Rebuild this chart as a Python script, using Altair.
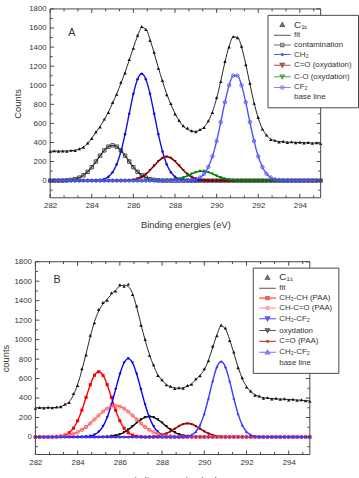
import altair as alt
import pandas as pd

FONT = "Liberation Sans"
INK = "#333333"
FRAME = "#444444"

# Sampling of the binding-energy axis (eV) shared by every curve
E_START = 282.0
E_STEP = 0.2
E_COUNT = 66
ENERGY = [round(E_START + E_STEP * i, 1) for i in range(E_COUNT)]

# ---------------- Panel A ----------------
A_C1S = [306, 312, 307, 311, 309, 317, 316, 334, 349, 395, 441,
         512, 562, 645, 714, 820, 905, 1030, 1128, 1270, 1388, 1525,
         1615, 1585, 1470, 1345, 1178, 1050, 900, 808, 698, 630, 575,
         552, 522, 512, 535, 558, 628, 715, 870, 1038, 1250, 1402,
         1512, 1498, 1408, 1215, 1020, 810, 662, 540, 478, 430, 422,
         405, 412, 400, 406, 398, 403, 395, 399, 392, 397, 389]
A_FIT = [309, 309, 309, 310, 311, 314, 319, 330, 352, 390, 446,
         505, 568, 638, 720, 812, 912, 1020, 1135, 1262, 1395, 1515,
         1605, 1590, 1480, 1335, 1185, 1040, 910, 800, 705, 625, 570,
         537, 520, 516, 530, 562, 622, 722, 862, 1044, 1242, 1410,
         1505, 1505, 1400, 1222, 1013, 816, 656, 544, 473, 436, 418,
         410, 406, 404, 402, 401, 400, 398, 397, 395, 394, 392]
# components: (first energy of the non-zero span, counts)
A_CONTAM = (282.8, [3, 8, 16, 31, 56, 92, 141, 200, 262, 317, 356, 370,
                    356, 317, 262, 200, 141, 92, 56, 31, 16, 8, 3])
A_CH2 = (284.2, [2, 6, 17, 40, 88, 172, 305, 487, 701, 910, 1063, 1120,
                 1063, 910, 701, 487, 305, 172, 88, 40, 17, 6, 2])
A_C_DBL_O = (285.8, [4, 9, 20, 38, 68, 109, 157, 203, 237, 250,
                     237, 203, 157, 109, 68, 38, 20, 9, 4])
A_C_O = (287.6, [2, 4, 10, 19, 32, 51, 71, 88, 99, 99,
                 88, 71, 51, 32, 19, 10, 4, 2])
A_CF2 = (288.6, [2, 5, 14, 33, 71, 142, 255, 415, 613, 822, 999, 1101,
                 1101, 999, 822, 613, 415, 255, 142, 71, 33, 14, 5, 2])

# ---------------- Panel B ----------------
B_C1S = [296, 303, 298, 305, 299, 308, 310, 338, 355, 445, 528,
         700, 842, 1045, 1172, 1310, 1382, 1405, 1480, 1498, 1565, 1548,
         1570, 1462, 1345, 1148, 1002, 838, 742, 632, 588, 535, 522,
         498, 506, 500, 528, 540, 598, 628, 700, 782, 932, 1040,
         1150, 1120, 990, 872, 712, 608, 512, 472, 428, 420, 398,
         404, 390, 398, 386, 393, 380, 388, 376, 382, 371, 366]
B_FIT = [300, 300, 300, 300, 301, 304, 312, 330, 363, 430, 540,
         685, 855, 1030, 1185, 1295, 1365, 1415, 1465, 1510, 1548, 1560,
         1545, 1475, 1330, 1160, 990, 850, 730, 640, 580, 540, 515,
         505, 500, 505, 520, 545, 590, 635, 690, 790, 920, 1050,
         1140, 1110, 1000, 860, 720, 600, 520, 465, 435, 415, 403,
         398, 395, 392, 390, 388, 385, 382, 380, 377, 374, 370]
B_CH2_CH = (283.0, [3, 7, 19, 44, 90, 167, 275, 407, 537, 634, 670,
                    634, 537, 407, 275, 167, 90, 44, 19, 7, 3])
B_CH_CO = (283.0, [3, 6, 11, 19, 32, 49, 73, 103, 139, 180, 221, 260, 292, 313, 320,
                   313, 292, 260, 221, 180, 139, 103, 73, 49, 32, 19, 11, 6, 3])
B_CH2_CF2 = (284.4, [3, 9, 23, 53, 109, 200, 331, 489, 645, 762, 805,
                     762, 645, 489, 331, 200, 109, 53, 23, 9, 3])
B_OXY = (285.2, [2, 4, 8, 15, 28, 48, 76, 109, 146, 178, 202, 210,
                 202, 178, 146, 109, 76, 48, 28, 15, 8, 4, 2])
B_CO = (287.4, [2, 4, 9, 19, 35, 58, 85, 112, 132, 140,
                132, 112, 85, 58, 35, 19, 9, 4, 2])
B_CF2 = (289.0, [2, 7, 21, 54, 122, 237, 398, 576, 720, 775,
                 720, 576, 398, 237, 122, 54, 21, 7, 2])

# Axis ticks
X_LABELS = [282, 284, 286, 288, 290, 292, 294]
X_MINOR = [round(282 + k * 2 / 3, 3) for k in range(20) if k % 3 != 0]
Y_LABELS = list(range(0, 1801, 200))
Y_MINOR = list(range(-100, 1800, 200))

C1S_LABEL = "C₁ₛ"


def spread(component):
    """Place a component's non-zero span on the full energy grid."""
    start, values = component
    out = [0] * E_COUNT
    i0 = ENERGY.index(round(start, 1))
    out[i0:i0 + len(values)] = values
    return out


# legend glyphs: short line with a marker in the middle (unit box, scaled by sqrt(size)/2)
LINE = "M-1.75,0H6.75"
TRI_UP = "M1.4,0.95L2.5,-1.05L3.6,0.95Z"
TRI_DOWN = "M1.4,-0.95L3.6,-0.95L2.5,1.05Z"
SQUARE = "M1.65,-0.85H3.35V0.85H1.65Z"
CIRCLE = "M1.65,0A0.85,0.85 0 1,0 3.35,0A0.85,0.85 0 1,0 1.65,0Z"
DOT = "M1.95,0A0.55,0.55 0 1,0 3.05,0A0.55,0.55 0 1,0 1.95,0Z"
EMPTY = "M2.5,0L2.51,0"


def panel(series, legend_rows, letter, letter_xy, y_title, width, height,
          legend_xy, row_pad, y_title_pad, inset=0):
    """One spectrum panel; the framed data area spans [inset, width] horizontally."""
    xs = alt.Scale(domain=[282, 295], range=[inset, width], nice=False, zero=False)
    ys = alt.Scale(domain=[-180, 1800], nice=False, zero=False)
    x_axis = alt.Axis(values=X_LABELS, format="d", title="Binding energies (eV)",
                      ticks=False, domain=False, grid=False, labelFlush=False,
                      labelFont=FONT, labelFontSize=8, labelColor=INK, labelPadding=4,
                      titleFont=FONT, titleFontSize=9.5, titleFontWeight="normal",
                      titleColor=INK, titlePadding=10, titleX=(inset + width) / 2)
    y_axis = alt.Axis(values=Y_LABELS, format="d", title=y_title,
                      ticks=False, domain=False, grid=False, labelFlush=False,
                      labelFont=FONT, labelFontSize=8, labelColor=INK, labelPadding=4,
                      titleFont=FONT, titleFontSize=9.5, titleFontWeight="normal",
                      titleColor=INK, titlePadding=y_title_pad, offset=-inset)

    def X(field):
        return alt.X(field, scale=xs, axis=x_axis)

    def Y(field):
        return alt.Y(field, scale=ys, axis=y_axis)

    layers = []
    for s in series:
        base = alt.Chart(pd.DataFrame({"E": ENERGY, "I": s["values"]}))
        if s.get("lw"):
            layers.append(base.mark_line(color=s["color"], strokeWidth=s["lw"],
                                         interpolate="monotone").encode(x=X("E:Q"), y=Y("I:Q")))
        if s.get("shape"):
            layers.append(base.mark_point(shape=s["shape"], size=s["size"], filled=s["filled"],
                                          color=s["color"], strokeWidth=0.9, opacity=1)
                          .encode(x=X("E:Q"), y=Y("I:Q")))

    # frame around the data area
    layers.append(alt.Chart(pd.DataFrame({"t": [0]})).mark_rect(
        fillOpacity=0, stroke=FRAME, strokeWidth=1).encode(
        x=alt.value(inset), x2=alt.value(width), y=alt.value(0), y2=alt.value(height)))

    # inward ticks on all four sides of the frame
    def tick_layer(values, side, length):
        df = pd.DataFrame({"v": values})
        if side == "bottom":
            enc = dict(x=X("v:Q"), y=alt.value(height), y2=alt.value(height - length))
        elif side == "top":
            enc = dict(x=X("v:Q"), y=alt.value(0), y2=alt.value(length))
        elif side == "left":
            enc = dict(y=Y("v:Q"), x=alt.value(inset), x2=alt.value(inset + length))
        else:
            enc = dict(y=Y("v:Q"), x=alt.value(width), x2=alt.value(width - length))
        return alt.Chart(df).mark_rule(color=FRAME, strokeWidth=1).encode(**enc)

    for side in ("bottom", "top"):
        layers.append(tick_layer(X_LABELS, side, 4))
        layers.append(tick_layer(X_MINOR, side, 2.5))
    for side in ("left", "right"):
        layers.append(tick_layer(Y_LABELS, side, 4))
        layers.append(tick_layer(Y_MINOR, side, 2.5))

    layers.append(alt.Chart(pd.DataFrame({"t": [letter]})).mark_text(
        font=FONT, fontSize=11, color=INK, align="center", baseline="middle").encode(
        x=alt.value(letter_xy[0]), y=alt.value(letter_xy[1]), text="t:N"))

    labels = [r[0] for r in legend_rows]
    legend = alt.Legend(title=None, orient="none", legendX=legend_xy[0], legendY=legend_xy[1],
                        direction="vertical", padding=6, strokeColor=FRAME, fillColor="white",
                        cornerRadius=0, labelFont=FONT,
                        labelFontSize=alt.ExprRef(f"datum.value == '{C1S_LABEL}' ? 10 : 8"),
                        labelColor=INK, labelOffset=13, labelLimit=300, symbolSize=16,
                        symbolStrokeWidth=1.1, rowPadding=row_pad)
    leg_df = pd.DataFrame({"entry": labels, "E": [270.0] * len(labels), "I": [0] * len(labels)})
    layers.append(alt.Chart(leg_df).mark_point(filled=True, clip=True, size=16, strokeWidth=1.1).encode(
        x=X("E:Q"), y=Y("I:Q"),
        shape=alt.Shape("entry:N", scale=alt.Scale(domain=labels, range=[r[1] for r in legend_rows]),
                        legend=legend),
        stroke=alt.Stroke("entry:N", scale=alt.Scale(domain=labels, range=[r[2] for r in legend_rows]),
                          legend=legend),
        fill=alt.Fill("entry:N", scale=alt.Scale(domain=labels, range=[r[3] for r in legend_rows]),
                      legend=legend)))

    return alt.layer(*layers).properties(width=width, height=height)


A_SERIES = [
    dict(values=A_FIT, color="#222222", lw=1.0),
    dict(values=spread(A_CONTAM), color="#333333", lw=1.4, shape="square", size=12, filled=False),
    dict(values=spread(A_CH2), color="#1010e0", lw=1.4, shape="circle", size=7, filled=True),
    dict(values=spread(A_C_DBL_O), color="#800000", lw=1.6, shape="triangle-down", size=10, filled=True),
    dict(values=spread(A_C_O), color="#008000", lw=1.6, shape="triangle-down", size=10, filled=True),
    dict(values=spread(A_CF2), color="#5050ff", lw=1.4, shape="circle", size=12, filled=False),
    dict(values=A_C1S, color="#111111", shape="triangle-up", size=12, filled=True),
]
A_LEGEND = [
    (C1S_LABEL, TRI_UP, "#111111", "#111111"),
    ("fit", LINE, "#222222", "transparent"),
    ("contamination", LINE + SQUARE, "#333333", "transparent"),
    ("CH₂", LINE + DOT, "#1010e0", "#1010e0"),
    ("C=O (oxydation)", LINE + TRI_DOWN, "#800000", "#800000"),
    ("C-O (oxydation)", LINE + TRI_DOWN, "#008000", "#008000"),
    ("CF₂", LINE + CIRCLE, "#5050ff", "transparent"),
    ("base line", EMPTY, "transparent", "transparent"),
]

B_SERIES = [
    dict(values=B_FIT, color="#222222", lw=1.0),
    dict(values=spread(B_CH2_CH), color="#ff0000", lw=1.4, shape="square", size=10, filled=True),
    dict(values=spread(B_OXY), color="#111111", lw=1.4, shape="triangle-down", size=10, filled=True),
    dict(values=spread(B_CO), color="#a00000", lw=1.6, shape="circle", size=6, filled=True),
    dict(values=spread(B_CH2_CF2), color="#0000ff", lw=1.4, shape="triangle-down", size=10, filled=True),
    dict(values=spread(B_CH_CO), color="#ff5a5a", lw=1.2, shape="circle", size=12, filled=False),
    dict(values=spread(B_CF2), color="#3a3aff", lw=1.4, shape="triangle-up", size=10, filled=True),
    dict(values=B_C1S, color="#111111", shape="triangle-up", size=12, filled=True),
]
B_LEGEND = [
    (C1S_LABEL, TRI_UP, "#111111", "#111111"),
    ("fit", LINE, "#222222", "transparent"),
    ("CH₂-CH (PAA)", LINE + SQUARE, "#ff0000", "#ff0000"),
    ("CH-C=O (PAA)", LINE + CIRCLE, "#ff5a5a", "transparent"),
    ("CH₂-CF₂", LINE + TRI_DOWN, "#0000ff", "#0000ff"),
    ("oxydation", LINE + TRI_DOWN, "#111111", "#111111"),
    ("C=O (PAA)", LINE + DOT, "#a00000", "#a00000"),
    ("CH₂-CF₂ ", LINE + TRI_UP, "#3a3aff", "#3a3aff"),
    ("base line", EMPTY, "transparent", "transparent"),
]

# panel A's frame sits 15 px right of panel B's
panel_a = panel(A_SERIES, A_LEGEND, "A", (37, 25), "Counts", 290, 192,
                (236, 6), 1.8, 6, inset=15)
panel_b = panel(B_SERIES, B_LEGEND, "B", (22, 19), "counts", 279, 196,
                (221, 6), 2, 4)

chart = alt.vconcat(panel_a, panel_b, spacing=29).resolve_scale(
    x="independent", y="independent", shape="independent", stroke="independent", fill="independent"
).resolve_legend(shape="independent", stroke="independent", fill="independent").properties(
    padding={"left": 0, "top": 1, "right": 0, "bottom": 0}, background="white"
).configure_view(strokeWidth=0)

chart.save("out.html", embed_options={"renderer": "svg", "actions": False})
